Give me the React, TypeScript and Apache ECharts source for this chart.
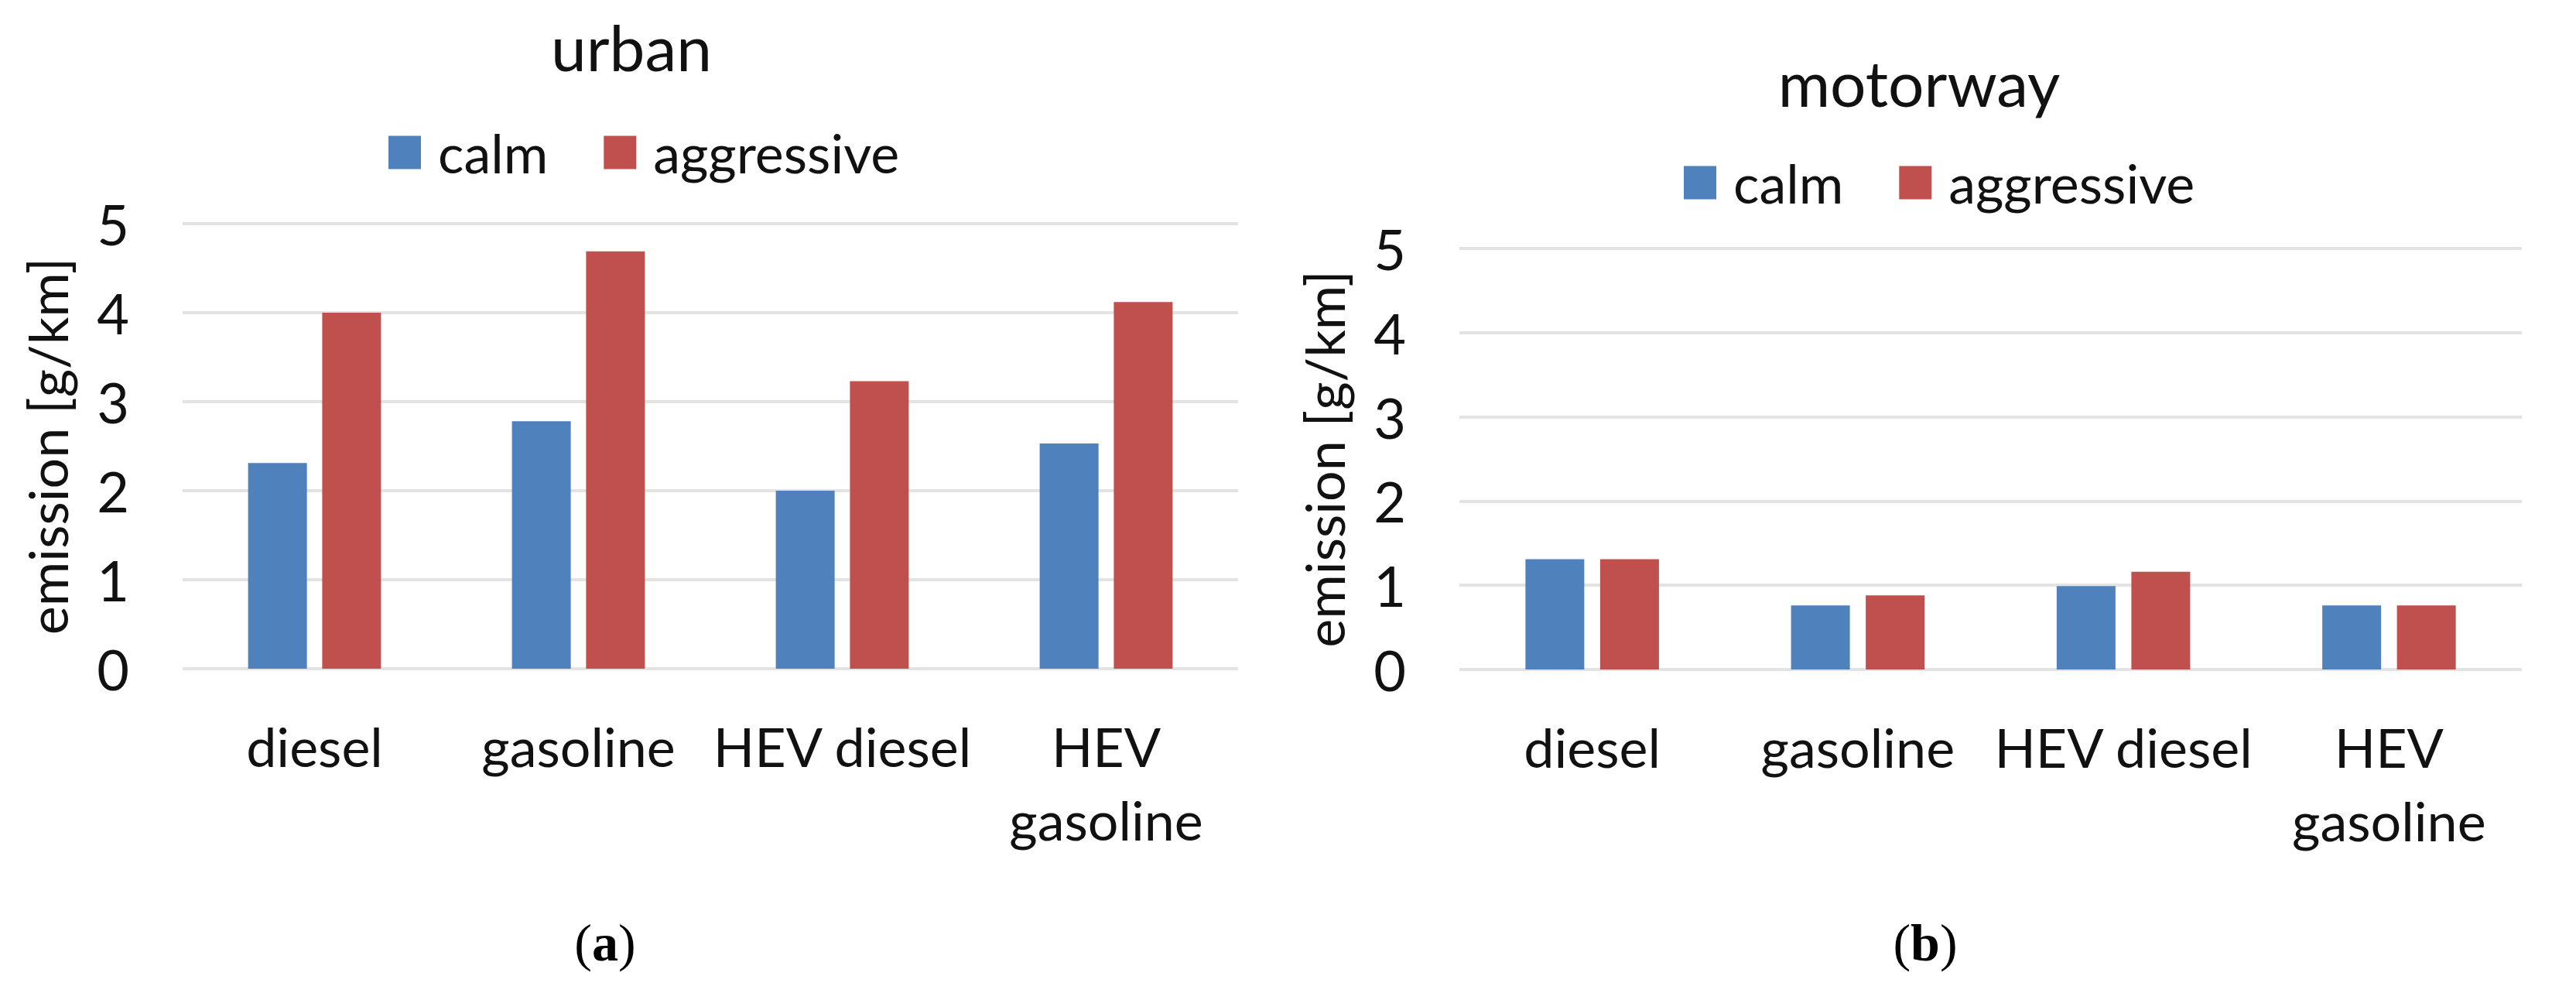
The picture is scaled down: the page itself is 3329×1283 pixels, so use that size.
import React, { useEffect, useRef } from "react";
import * as echarts from "echarts";

const categories = ["diesel", "gasoline", "HEV diesel", "HEV gasoline"];
const seriesNames = ["calm", "aggressive"];
const urbanCalm = [2.31, 2.78, 2.0, 2.53];
const urbanAggressive = [4.0, 4.69, 3.23, 4.12];
const motorwayCalm = [1.31, 0.76, 0.99, 0.76];
const motorwayAggressive = [1.31, 0.88, 1.16, 0.76];
const panelTitles = ["urban", "motorway"];
const panelLabels = ["a", "b"];
const yAxisName = "emission [g/km]";

const BLUE = "#4F81BD";
const RED = "#C0504D";
const FONT = "Lato, 'Open Sans', sans-serif";
const TEXT = "#111111";

export default function App() {
  const ref = useRef<HTMLDivElement>(null);
  useEffect(() => {
    if (!ref.current) return;
    const chart = echarts.init(ref.current, undefined, { renderer: "svg" });
    const grids = [
      { left: 236, top: 289, width: 1364, height: 575 },
      { left: 1886, top: 321, width: 1373, height: 544 },
    ];
    const xAxes = grids.map((_, i) => ({
      type: "category",
      gridIndex: i,
      data: categories,
      axisLine: { show: false },
      axisTick: { show: false },
      axisLabel: {
        interval: 0,
        margin: 52,
        fontFamily: FONT,
        fontSize: 70,
        lineHeight: 95,
        color: TEXT,
        formatter: (v: string) => (v === "HEV gasoline" ? "HEV\ngasoline" : v),
      },
    }));
    const yAxes = grids.map((_, i) => ({
      type: "value",
      gridIndex: i,
      min: 0,
      max: 5,
      interval: 1,
      name: yAxisName,
      nameLocation: "middle",
      nameGap: 140,
      nameTextStyle: { fontFamily: FONT, fontSize: 70, color: TEXT },
      axisLine: { show: false },
      axisTick: { show: false },
      axisLabel: { margin: 69, fontFamily: FONT, fontSize: 72, color: TEXT },
      splitLine: { show: true, lineStyle: { color: "#e3e3e3", width: 4 } },
    }));
    const mkBar = (name: string, data: number[], idx: number, color: string, gap: string) => ({
      type: "bar",
      name,
      data,
      xAxisIndex: idx,
      yAxisIndex: idx,
      barWidth: 76,
      barGap: gap,
      itemStyle: { color },
    });
    const legendBase = {
      orient: "horizontal",
      data: seriesNames,
      icon: "rect",
      itemWidth: 42,
      itemHeight: 43,
      itemGap: 72,
      textStyle: {
        fontFamily: FONT,
        fontSize: 70,
        lineHeight: 43,
        color: TEXT,
        padding: [0, 0, 0, 17],
      },
      selectedMode: false,
    };
    const labelText = (l: string) => `{p|(}{b|${l}}{p|)}`;
    const labelRich = {
      p: { fontFamily: "'Liberation Serif', serif", fontSize: 68, fill: "#000" },
      b: { fontFamily: "'Liberation Serif', serif", fontSize: 68, fontWeight: "bold", fill: "#000" },
    };
    chart.setOption({
      animation: false,
      backgroundColor: "#ffffff",
      grid: grids,
      xAxis: xAxes,
      yAxis: yAxes,
      legend: [
        { ...legendBase, left: 497, top: 157 },
        { ...legendBase, left: 2171, top: 196 },
      ],
      series: [
        mkBar(seriesNames[0], urbanCalm, 0, BLUE, "26%"),
        mkBar(seriesNames[1], urbanAggressive, 0, RED, "26%"),
        mkBar(seriesNames[0], motorwayCalm, 1, BLUE, "27%"),
        mkBar(seriesNames[1], motorwayAggressive, 1, RED, "27%"),
      ],
      graphic: [
        {
          type: "text",
          x: 816,
          y: 60,
          style: { text: panelTitles[0], fontFamily: FONT, fontSize: 82, fill: TEXT, textAlign: "center", textVerticalAlign: "middle" },
        },
        {
          type: "text",
          x: 2480,
          y: 106,
          style: { text: panelTitles[1], fontFamily: FONT, fontSize: 82, fill: TEXT, textAlign: "center", textVerticalAlign: "middle" },
        },
        {
          type: "text",
          x: 782,
          y: 1218,
          style: { text: labelText(panelLabels[0]), rich: labelRich, textAlign: "center", textVerticalAlign: "middle" },
        },
        {
          type: "text",
          x: 2488,
          y: 1218,
          style: { text: labelText(panelLabels[1]), rich: labelRich, textAlign: "center", textVerticalAlign: "middle" },
        },
      ],
    });
    return () => chart.dispose();
  }, []);
  return (
    <div
      ref={ref}
      style={{ position: "fixed", left: 0, top: 0, width: 3329, height: 1283, background: "#fff" }}
    />
  );
}
